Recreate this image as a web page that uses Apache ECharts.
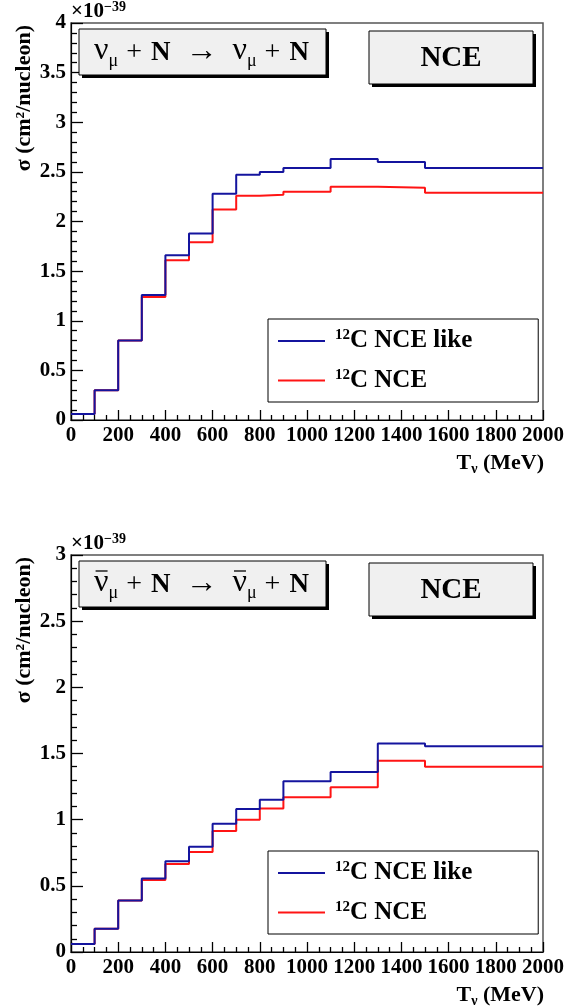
<!DOCTYPE html>
<html>
<head>
<meta charset="utf-8">
<script src="https://cdn.jsdelivr.net/npm/echarts@6/dist/echarts.min.js"></script>
<style>
  html, body { margin: 0; padding: 0; background: #fff; }
  #chart { width: 585px; height: 1008px; }
</style>
</head>
<body>
<div id="chart"></div>
<script>
// Neutrino energy bin edges (MeV), shared by both panels
const binEdges = [0, 100, 200, 300, 400, 500, 600, 700, 800, 900, 1100, 1300, 1500, 2000];

// nu_mu + N -> nu_mu + N, cross section per nucleon (units of 1e-39 cm^2)
const nuNceLike = [0.06, 0.30, 0.80, 1.26, 1.66, 1.88, 2.28, 2.47, 2.50, 2.54, 2.63, 2.60, 2.54];
const nuNce     = [0.06, 0.30, 0.80, 1.24, 1.61, 1.79, 2.12, 2.26, 2.27, 2.30, 2.35, 2.34, 2.29];

// anti-nu_mu + N -> anti-nu_mu + N
const nubarNceLike = [0.06, 0.175, 0.39, 0.555, 0.685, 0.795, 0.97, 1.08, 1.15, 1.29, 1.36, 1.575, 1.555];
const nubarNce     = [0.06, 0.175, 0.39, 0.545, 0.665, 0.755, 0.915, 1.00, 1.085, 1.17, 1.245, 1.445, 1.40];

const seriesNames = ['12C NCE like', '12C NCE'];
const xTicks = { min: 0, max: 2000, step: 200 };
const yMaxTop = 4, yMaxBottom = 3;

const FAMILY = '"Liberation Serif", "DejaVu Serif", serif';
const BLUE = '#14149e';
const RED = '#ff1414';

// histogram outline: one point per bin left edge plus the closing edge
function histPoints(values) {
  const pts = values.map((v, i) => [binEdges[i], v]);
  pts.push([binEdges[binEdges.length - 1], values[values.length - 1]]);
  return pts;
}

// reaction formula as rich text tokens; gaps are fixed-width blanks
const formulaStyles = {
  n: { size: 32, weight: 'normal', lift: 3 },
  s: { size: 18, weight: 'normal', lift: 0 },
  p: { size: 28, weight: 'normal', lift: 3 },
  a: { size: 32, weight: 'normal', lift: 2 },
  b: { size: 27, weight: 'bold', lift: 3 }
};
const formulaTokens = [
  ['n', 'ν', 'bar'], ['s', 'μ'], [8], ['p', '+'], [9], ['b', 'N'], [15], ['a', '→'], [15],
  ['n', 'ν', 'bar'], ['s', 'μ'], [8], ['p', '+'], [9], ['b', 'N']
];

const measureCtx = document.createElement('canvas').getContext('2d');
function textWidth(str, st) {
  measureCtx.font = st.weight + ' ' + st.size + 'px ' + FAMILY;
  return measureCtx.measureText(str).width;
}

function formulaGraphics(cx, cy, withBar, z) {
  const rich = {};
  let text = '', x = 0;
  const bars = [];
  Object.keys(formulaStyles).forEach(key => {
    const st = formulaStyles[key];
    rich[key] = { fontFamily: FAMILY, fontSize: st.size, fontWeight: st.weight, fill: '#000',
                  lineHeight: 36, verticalAlign: 'bottom', padding: [0, 0, st.lift, 0] };
  });
  formulaTokens.forEach((tk, i) => {
    if (tk.length === 1) {
      const key = 'g' + i;
      rich[key] = { width: tk[0], fontSize: 10, lineHeight: 36, verticalAlign: 'bottom' };
      text += '{' + key + '| }';
      x += tk[0];
    } else {
      const w = textWidth(tk[1], formulaStyles[tk[0]]);
      if (tk[2] === 'bar') bars.push([x, w]);
      text += '{' + tk[0] + '|' + tk[1] + '}';
      x += w;
    }
  });
  const total = x, x0 = cx - total / 2;
  const out = [{ type: 'text', x: cx, y: cy, z: z,
                 style: { text: text, rich: rich, align: 'center', verticalAlign: 'middle' } }];
  if (withBar) {
    bars.forEach(([bx, bw]) => out.push({
      type: 'line', z: z,
      shape: { x1: x0 + bx + 1.5, y1: cy - 13, x2: x0 + bx + bw - 1, y2: cy - 13 },
      style: { stroke: '#000', lineWidth: 1.3 }
    }));
  }
  return out;
}

const chart = echarts.init(document.getElementById('chart'), null, { renderer: 'canvas' });

const panels = [
  { top: 23, yMax: yMaxTop, like: nuNceLike, nce: nuNce, bar: false },
  { top: 555, yMax: yMaxBottom, like: nubarNceLike, nce: nubarNce, bar: true }
];
const PLOT_H = 397, PLOT_L = 71, PLOT_W = 472;

const grids = [], xAxes = [], yAxes = [], series = [], legends = [], graphics = [];

panels.forEach((p, k) => {
  grids.push({ left: PLOT_L, top: p.top, width: PLOT_W, height: PLOT_H, show: true,
               borderColor: '#555', borderWidth: 1.5, backgroundColor: 'transparent' });
  xAxes.push({
    gridIndex: k, type: 'value', min: xTicks.min, max: xTicks.max, interval: xTicks.step,
    axisLine: { show: true, onZero: false, lineStyle: { color: '#000', width: 1.2 } },
    axisTick: { show: true, inside: true, length: 10, lineStyle: { color: '#000', width: 1.3 } },
    minorTick: { show: true, splitNumber: 4, length: 5, lineStyle: { color: '#000', width: 1.3 } },
    axisLabel: { color: '#000', fontFamily: FAMILY, fontWeight: 'bold', fontSize: 21, margin: 5,
                 formatter: v => String(v) },
    splitLine: { show: false }
  });
  yAxes.push({
    gridIndex: k, type: 'value', min: 0, max: p.yMax, interval: 0.5,
    axisLine: { show: true, onZero: false, lineStyle: { color: '#000', width: 1.2 } },
    axisTick: { show: true, inside: true, length: 12, lineStyle: { color: '#000', width: 1.3 } },
    minorTick: { show: true, splitNumber: 5, length: 6, lineStyle: { color: '#000', width: 1.3 } },
    axisLabel: { color: '#000', fontFamily: FAMILY, fontWeight: 'bold', fontSize: 21, margin: 5,
                 formatter: v => String(v) },
    splitLine: { show: false }
  });
  series.push({
    name: seriesNames[1], type: 'line', xAxisIndex: k, yAxisIndex: k, step: 'end',
    data: histPoints(p.nce), symbol: 'none', color: RED,
    lineStyle: { color: RED, width: 2 }, z: 3
  });
  series.push({
    name: seriesNames[0], type: 'line', xAxisIndex: k, yAxisIndex: k, step: 'end',
    data: histPoints(p.like), symbol: 'none', color: BLUE,
    lineStyle: { color: BLUE, width: 2 }, z: 4
  });
  legends.push({
    data: seriesNames, orient: 'vertical', left: 268, top: p.top + 296,
    icon: 'rect', itemWidth: 47, itemHeight: 2, itemGap: 14,
    padding: [9, 66, 9, 10], borderColor: '#000', borderWidth: 1, backgroundColor: '#fff',
    selectedMode: false,
    formatter: n => '{sup|12}{t|' + n.slice(2) + '}',
    textStyle: {
      color: '#000', padding: [0, 0, 0, 5],
      rich: {
        sup: { fontFamily: FAMILY, fontWeight: 'bold', fontSize: 15, lineHeight: 14, verticalAlign: 'top', color: '#000' },
        t: { fontFamily: FAMILY, fontWeight: 'bold', fontSize: 25, lineHeight: 26, color: '#000' }
      }
    }
  });

  // reaction label box with drop shadow
  const tb = { x: 79, y: p.top + 6, w: 247, h: 46 };
  graphics.push({ type: 'rect', shape: { x: tb.x + 3, y: tb.y + 3, width: tb.w, height: tb.h }, style: { fill: '#000' }, z: 10 });
  graphics.push({ type: 'rect', shape: { x: tb.x, y: tb.y, width: tb.w, height: tb.h }, style: { fill: '#f0f0f0', stroke: '#000', lineWidth: 1 }, z: 11 });
  graphics.push(...formulaGraphics(tb.x + tb.w / 2 - 1, tb.y + tb.h / 2, p.bar, 12));

  // process label box
  const nb = { x: 369, y: p.top + 8, w: 164, h: 53 };
  graphics.push({ type: 'rect', shape: { x: nb.x + 3, y: nb.y + 3, width: nb.w, height: nb.h }, style: { fill: '#000' }, z: 10 });
  graphics.push({ type: 'rect', shape: { x: nb.x, y: nb.y, width: nb.w, height: nb.h }, style: { fill: '#f0f0f0', stroke: '#000', lineWidth: 1 }, z: 11 });
  graphics.push({
    type: 'text', x: nb.x + nb.w / 2, y: nb.y + nb.h / 2 + 1, z: 12,
    style: { text: 'NCE', align: 'center', verticalAlign: 'middle',
             font: 'bold 29px ' + FAMILY, fill: '#000' }
  });

  // exponent above the y axis
  graphics.push({
    type: 'text', x: 71, y: p.top - 23, z: 12,
    style: {
      text: '{a|×10}{e|−39}', align: 'left', verticalAlign: 'top',
      rich: {
        a: { fontFamily: FAMILY, fontWeight: 'bold', fontSize: 21, lineHeight: 24, fill: '#000' },
        e: { fontFamily: FAMILY, fontWeight: 'bold', fontSize: 14, lineHeight: 14, verticalAlign: 'top', fill: '#000' }
      }
    }
  });

  // y axis title, rotated, anchored at the top of the axis
  graphics.push({
    type: 'text', x: 24, y: p.top + 2, rotation: Math.PI / 2, z: 12,
    style: { text: 'σ (cm²/nucleon)', align: 'right', verticalAlign: 'middle',
             font: 'bold 22px ' + FAMILY, fill: '#000' }
  });

  // x axis title, right aligned to the axis end
  graphics.push({
    type: 'text', x: PLOT_L + PLOT_W + 1, y: p.top + PLOT_H + 43, z: 12,
    style: {
      text: '{t|T}{s|ν}{t| (MeV)}', align: 'right', verticalAlign: 'middle',
      rich: {
        t: { fontFamily: FAMILY, fontWeight: 'bold', fontSize: 22, lineHeight: 26, fill: '#000' },
        s: { fontFamily: FAMILY, fontWeight: 'bold', fontSize: 14, lineHeight: 12, verticalAlign: 'bottom', fill: '#000' }
      }
    }
  });
});

chart.setOption({
  animation: false,
  backgroundColor: '#fff',
  grid: grids,
  xAxis: xAxes,
  yAxis: yAxes,
  legend: legends,
  series: series,
  graphic: graphics
});
</script>
</body>
</html>
